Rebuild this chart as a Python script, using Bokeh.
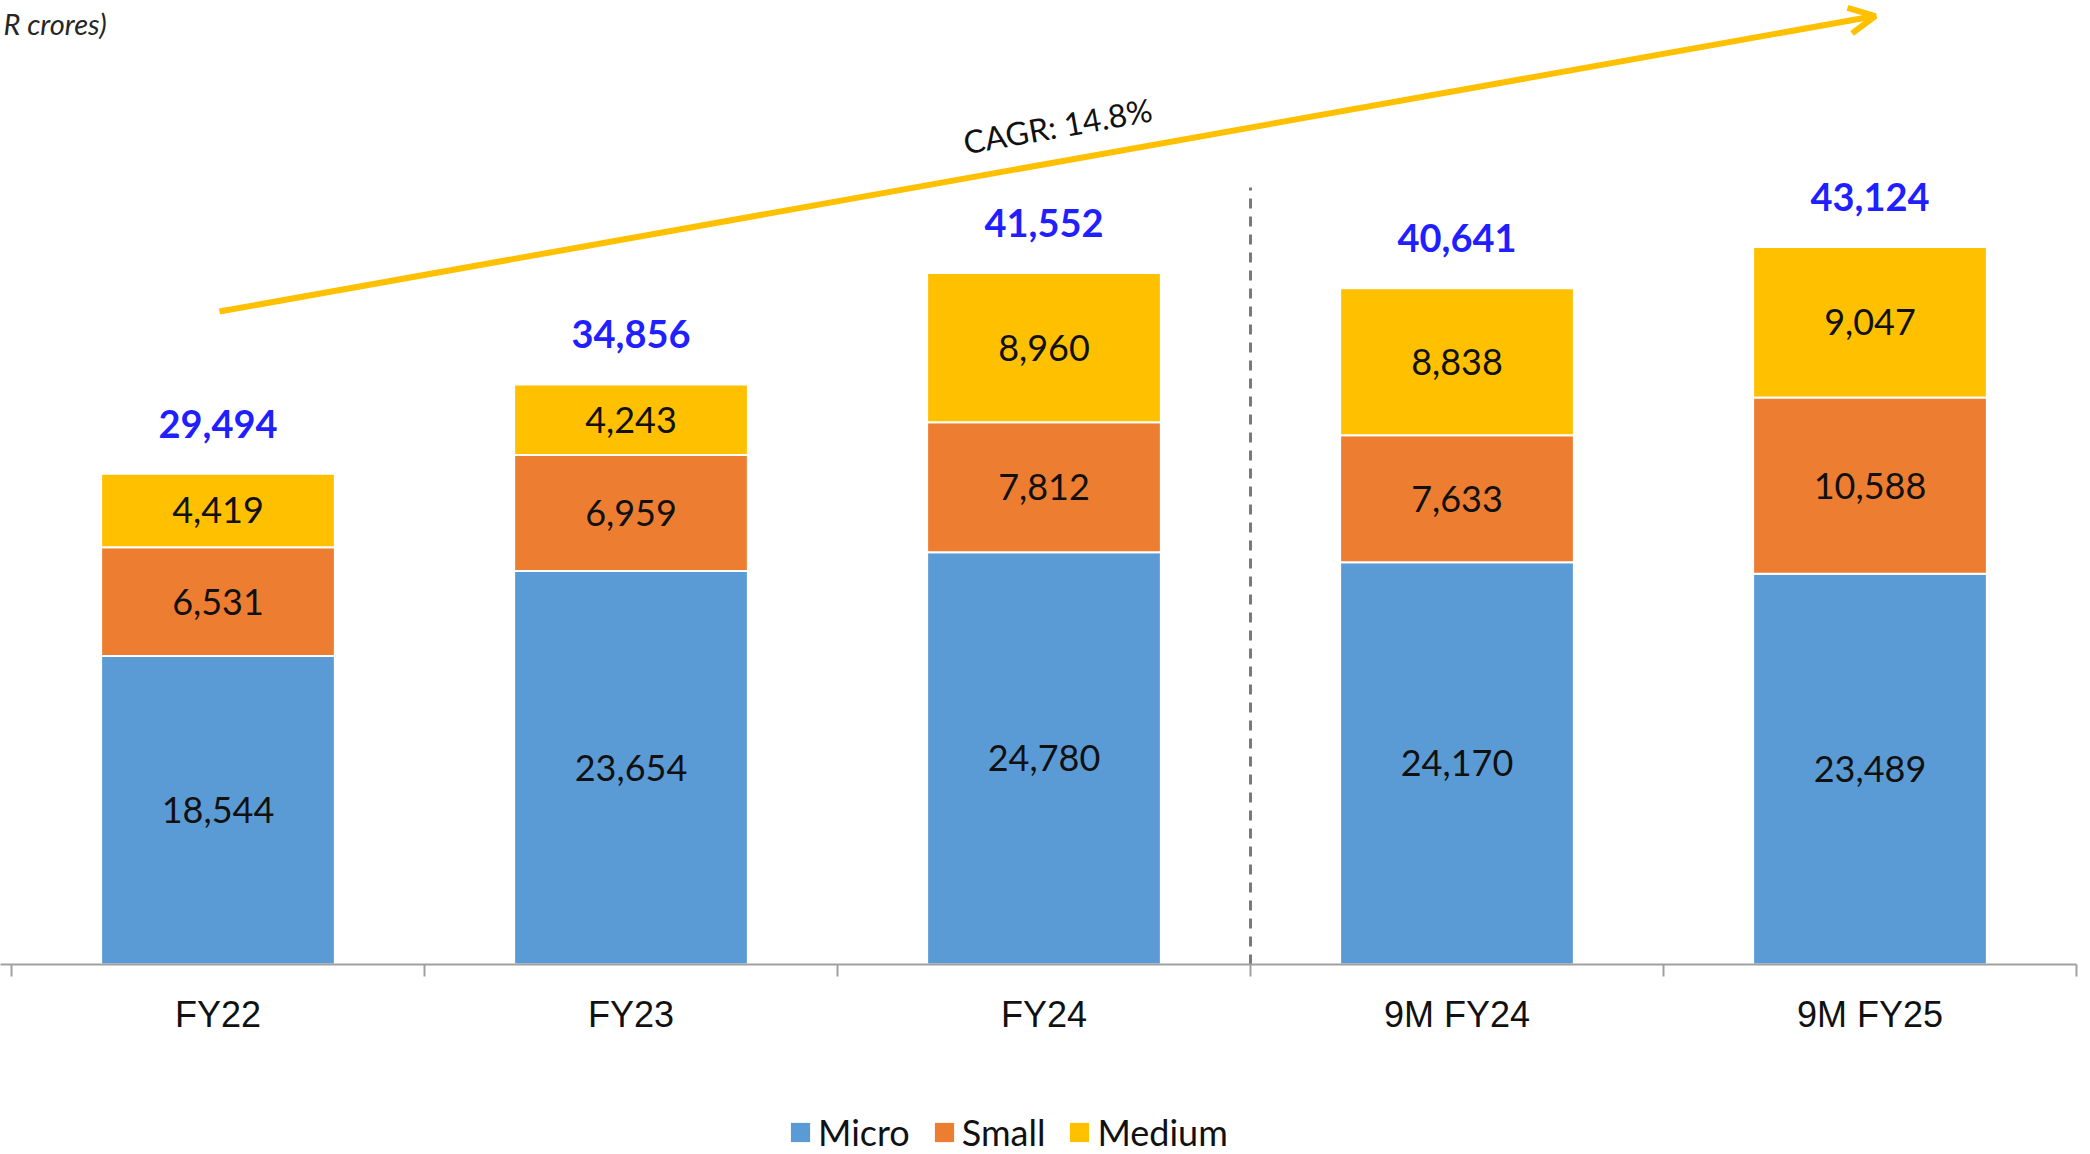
from bokeh.plotting import figure
from bokeh.layouts import column
from bokeh.models import Range1d, FixedTicker, Legend, LegendItem, Arrow, OpenHead, ColumnDataSource
from bokeh.core.properties import value
from bokeh.embed import file_html
from bokeh.resources import INLINE

# ---- data ----
categories = ["FY22", "FY23", "FY24", "9M FY24", "9M FY25"]
micro = [18544, 23654, 24780, 24170, 23489]
small = [6531, 6959, 7812, 7633, 10588]
medium = [4419, 4243, 8960, 8838, 9047]
totals = [29494, 34856, 41552, 40641, 43124]
series_names = ["Micro", "Small", "Medium"]
colors = ["#5B9BD5", "#ED7D31", "#FFC000"]
cagr_label = "CAGR: 14.8%"
unit_label = "R crores)"

# ---- layout constants ----
W = 2090
H_MAIN, H_LEG = 1100, 54
frame_h = 964
px_per_unit = 0.01664
y_top = frame_h / px_per_unit

x = [i + 0.5 for i in range(len(categories))]

p = figure(width=W, height=H_MAIN, output_backend="svg", toolbar_location=None,
           x_range=Range1d(-0.02663, 5.0), y_range=Range1d(0, y_top),
           min_border_left=0, min_border_right=14, min_border_top=0,
           min_border_bottom=H_MAIN - frame_h)
p.outline_line_color = None
p.xgrid.visible = False
p.ygrid.visible = False
p.yaxis.visible = False
p.background_fill_color = "white"

src = ColumnDataSource(dict(x=x, Micro=micro, Small=small, Medium=medium))
renderers = p.vbar_stack(series_names, x="x", width=0.566, color=colors,
                         line_color="white", line_width=2, source=src)

# segment labels
seg_x, seg_y, seg_t = [], [], []
for i in range(len(categories)):
    base = 0
    for vals in (micro, small, medium):
        v = vals[i]
        seg_x.append(x[i])
        seg_y.append(base + v / 2)
        seg_t.append(f"{v:,}")
        base += v
p.text(x=seg_x, y=seg_y, text=seg_t, text_align="center", text_baseline="middle",
       text_font=value("Lato"), text_font_size="36px", text_color="#111111")

# total labels
off = 50 / px_per_unit
p.text(x=x, y=[t + off for t in totals], text=[f"{t:,}" for t in totals],
       text_align="center", text_baseline="middle",
       text_font=value("Lato"), text_font_style="bold", text_font_size="38px",
       text_color="#1F1FFF")

# separator dashed line
p.segment(x0=[3.0], y0=[0], x1=[3.0], y1=[46700], line_color="#7a7a7a",
          line_width=3, line_dash="10 8")

# CAGR arrow
arrow_color = "#FFC000"
p.add_layout(Arrow(x_start=0.5036, y_start=39243, x_end=4.513, y_end=57000,
                   line_color=arrow_color, line_width=6,
                   end=OpenHead(size=26, line_color=arrow_color, line_width=6)))
p.text(x=[2.533], y=[50420], text=[cagr_label], angle=0.176,
       text_align="center", text_baseline="middle",
       text_font=value("Lato"), text_font_size="32px", text_color="#111111")

# unit label (top-left)
p.text(x=[-0.0194], y=[56550], text=[unit_label], text_align="left",
       text_baseline="middle", text_font=value("Lato"), text_font_style="italic",
       text_font_size="29px", text_color="#262626")

# x axis
ax = p.xaxis[0]
ax.ticker = FixedTicker(ticks=x, minor_ticks=[0, 1, 2, 3, 4, 5])
ax.major_label_overrides = {xx: c for xx, c in zip(x, categories)}
ax.major_tick_out = 0
ax.major_tick_in = 0
ax.minor_tick_out = 12
ax.minor_tick_in = 0
ax.minor_tick_line_color = "#a0a0a0"
ax.minor_tick_line_width = 2
ax.axis_line_color = "#a0a0a0"
ax.axis_line_width = 2
ax.major_label_text_font = "Liberation Sans"
ax.major_label_text_font_size = "36px"
ax.major_label_text_color = "#111111"
ax.major_label_standoff = 17

# legend figure (separate strip below the chart)
lg = figure(width=W, height=H_LEG, output_backend="svg", toolbar_location=None,
            x_range=Range1d(0, 1), y_range=Range1d(0, 1),
            min_border_left=0, min_border_right=0, min_border_top=0, min_border_bottom=0)
lg.outline_line_color = None
lg.axis.visible = False
lg.grid.visible = False
leg_renderers = []
for c in colors:
    hidden = ColumnDataSource(dict(x=[5.0], top=[0.0]))
    leg_renderers.append(lg.vbar(x="x", top="top", width=0.01, fill_color=c,
                                 line_color=None, source=hidden))
items = [LegendItem(label=n, renderers=[r]) for n, r in zip(series_names, leg_renderers)]
legend = Legend(items=items, orientation="horizontal", location=(788, 0),
                padding=0, margin=0, border_line_color=None, background_fill_alpha=0,
                glyph_width=24, glyph_height=24, label_standoff=6, spacing=22,
                label_text_font="Lato", label_text_font_size="36px",
                label_text_color="#111111")
lg.add_layout(legend, "center")

layout = column(p, lg, spacing=0)
open("out.html", "w").write(file_html(layout, INLINE))
